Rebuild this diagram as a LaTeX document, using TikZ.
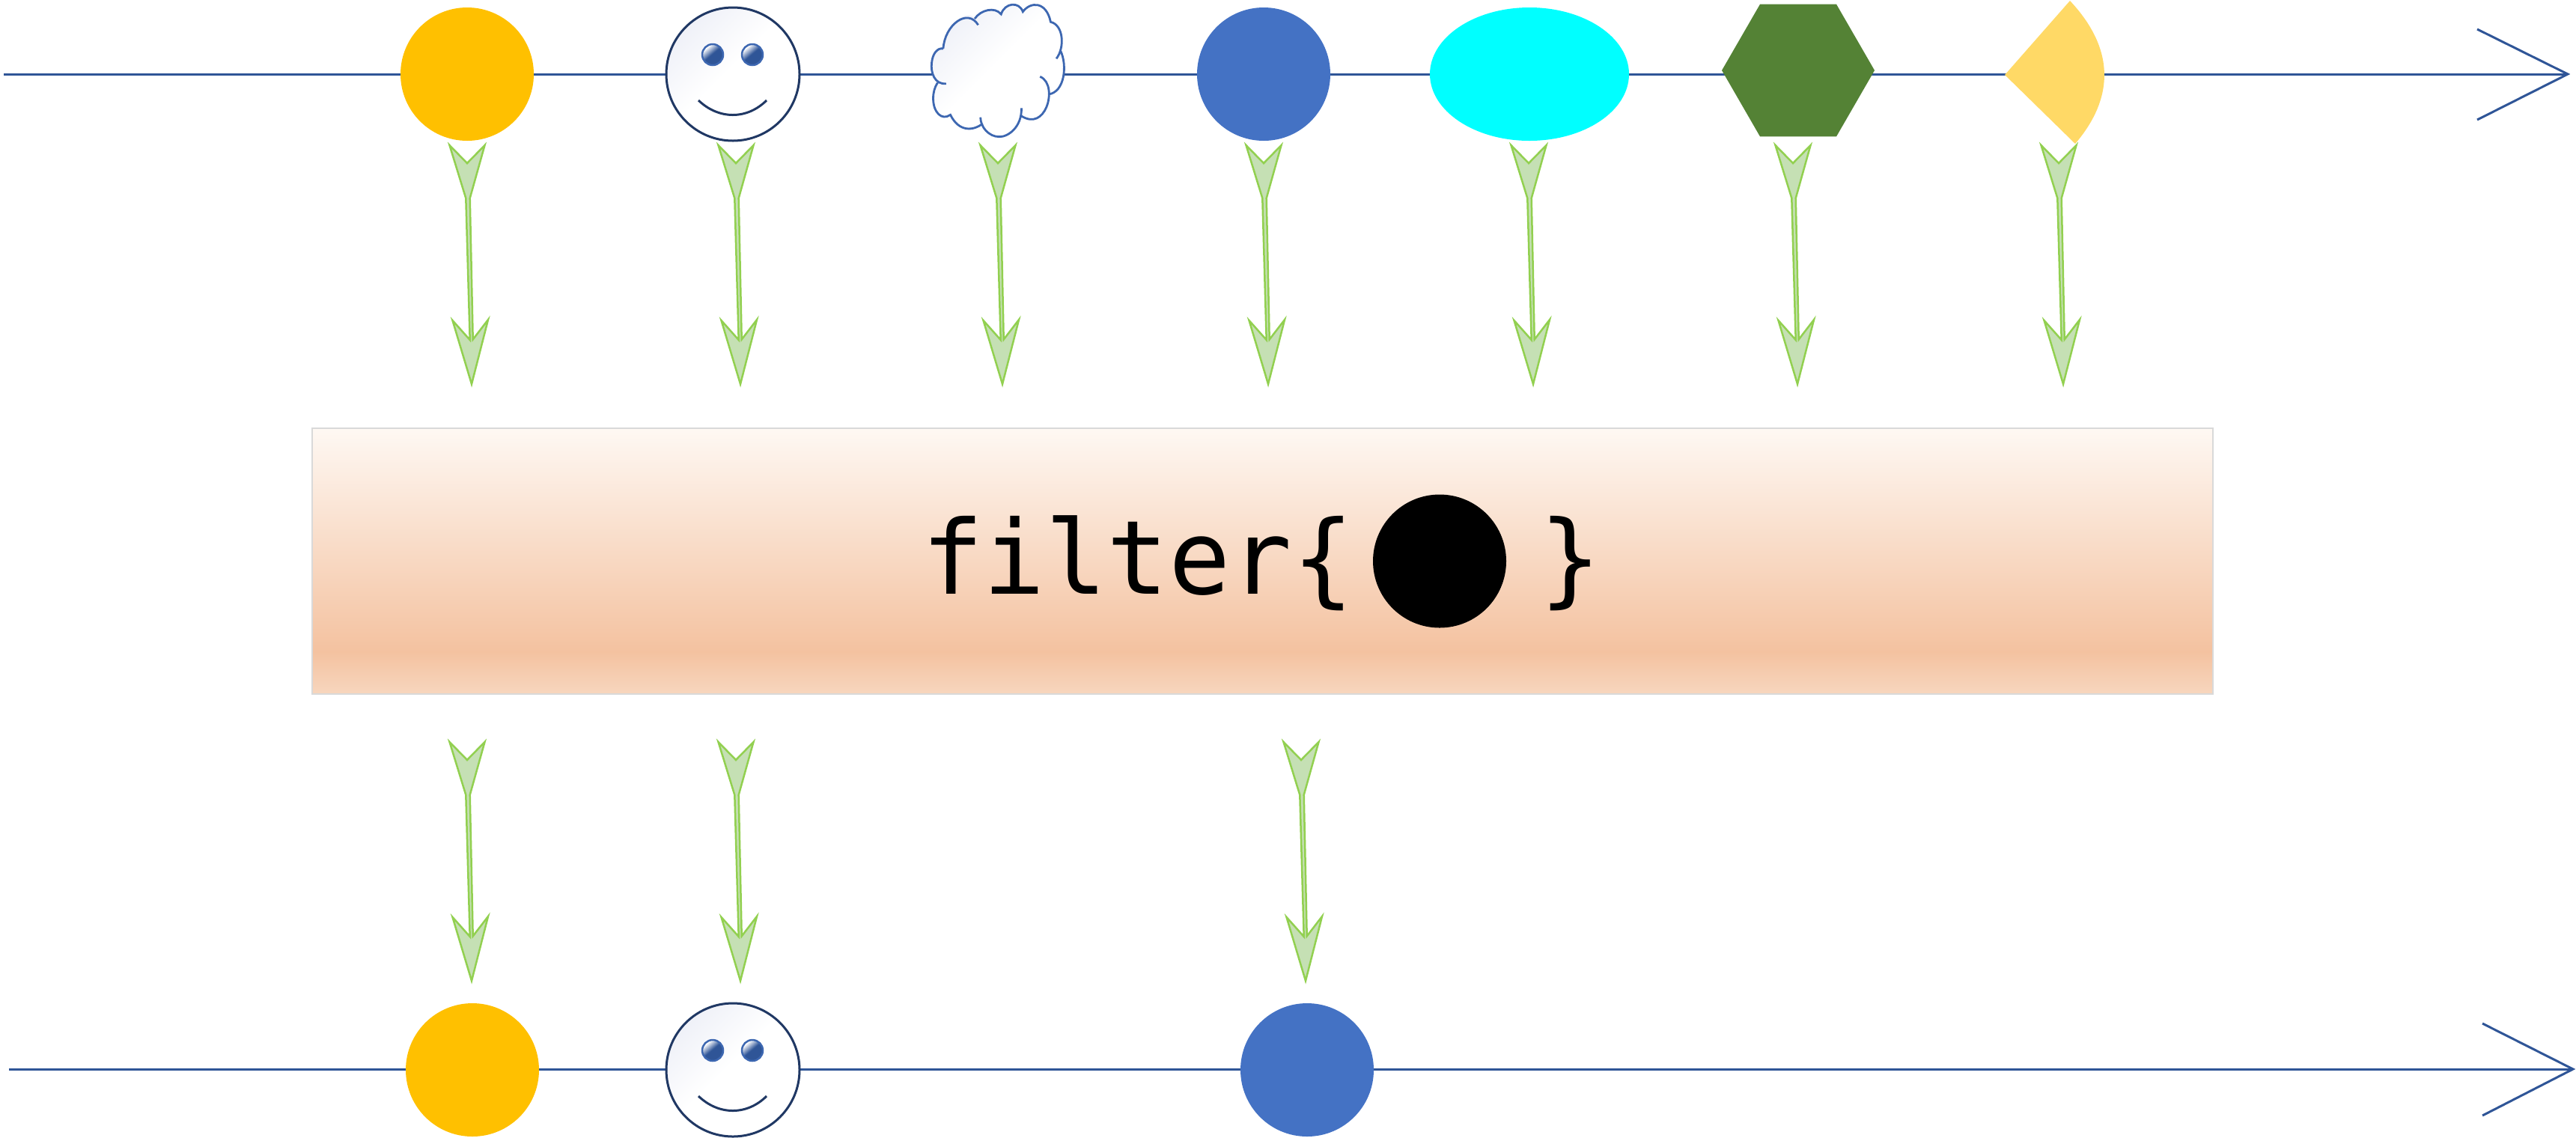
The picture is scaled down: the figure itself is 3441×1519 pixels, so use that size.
\documentclass[tikz,border=0pt]{standalone}
\usepackage{fontspec}
\setmonofont{DejaVu Sans Mono}
\usetikzlibrary{shapes.geometric,calc}
\definecolor{lineblue}{HTML}{2F5597}
\definecolor{facenavy}{HTML}{203864}
\definecolor{cloudblue}{HTML}{3D67B1}
\definecolor{coinyellow}{HTML}{FFC000}
\definecolor{coinblue}{HTML}{4472C4}
\definecolor{coincyan}{HTML}{00FFFF}
\definecolor{hexgreen}{HTML}{548235}
\definecolor{wedgeyellow}{HTML}{FFD966}
\definecolor{flowedge}{HTML}{92D050}
\definecolor{flowfill}{HTML}{C5E0B4}
\definecolor{boxbot}{HTML}{F7D6BE}
\definecolor{boxmid}{HTML}{F4C2A0}
\definecolor{boxtop}{HTML}{FEF8F3}
\definecolor{faceedge}{HTML}{EDEFF7}
\definecolor{eyeblue}{HTML}{2F5597}
\pgfdeclareverticalshading{boxshade}{100bp}{color(0bp)=(boxbot); color(25bp)=(boxbot); color(33bp)=(boxmid); color(75bp)=(boxtop); color(100bp)=(boxtop)}
\pgfdeclareverticalshading{faceshade}{100bp}{color(0bp)=(white); color(52bp)=(white); color(78bp)=(faceedge); color(100bp)=(faceedge)}
\pgfdeclareverticalshading{eyeshade}{100bp}{color(0bp)=(eyeblue); color(52bp)=(eyeblue); color(72bp)=(white); color(100bp)=(white)}
\tikzset{
    timeline/.style={lineblue, line width=0.3mm},
    coin/.style={circle, minimum size=17.8mm, inner sep=0pt, fill=#1},
    face/.style={circle, minimum size=17.8mm, inner sep=0pt, draw=facenavy, line width=0.3mm, shading=faceshade, shading angle=45},
    eye/.style={circle, minimum size=2.8mm, inner sep=0pt, draw=cloudblue, line width=0.25mm, shading=eyeshade, shading angle=40},
    flowline/.style={draw=flowedge, fill=flowfill, line width=0.25mm, line join=miter,
        to path={
            ([shift={(0,0)}]\tikztostart) -- ([shift={(23.5,-24)}]\tikztostart)
            -- ([shift={(3.7,46.7)}]\tikztostart) -- ([shift={(1.7,-59.6)}]\tikztotarget)
            -- ([shift={(22,-86)}]\tikztotarget) -- (\tikztotarget)
            -- ([shift={(-25.5,-85)}]\tikztotarget) -- ([shift={(-2.3,-59)}]\tikztotarget)
            -- ([shift={(-1.7,46.7)}]\tikztostart) -- ([shift={(-23.5,-24)}]\tikztostart) -- cycle}}
}
\begin{document}
\begin{tikzpicture}[x=0.1mm, y=-0.1mm]
    \useasboundingbox (0,0) rectangle (3441,1519);

    % Top timeline
    \coordinate (topstart) at (5,99);
    \coordinate (topend) at (3430,99);
    \coordinate (topbarba) at (3309,39);
    \coordinate (topbarbb) at (3309,160);
    \draw[timeline] (topstart) -- (topend);
    \draw[timeline] (topbarba) -- (topend) -- (topbarbb);

    % Bottom timeline
    \coordinate (botstart) at (12,1428);
    \coordinate (botend) at (3437,1428);
    \coordinate (botbarba) at (3316,1367);
    \coordinate (botbarbb) at (3316,1490);
    \draw[timeline] (botstart) -- (botend);
    \draw[timeline] (botbarba) -- (botend) -- (botbarbb);

    % Input shapes
    \node[coin=coinyellow] (inyellow) at (624,99) {};
    \node[face] (inface) at (979,99) {};
    \node[coin=coinblue] (inblue) at (1688,99) {};
    \node[ellipse, minimum width=26.6mm, minimum height=17.8mm, inner sep=0pt, fill=coincyan] (incyan) at (2043,99) {};
    \node[regular polygon, regular polygon sides=6, minimum size=20.4mm, inner sep=0pt, fill=hexgreen] (inhex) at (2402,94) {};
    \fill[wedgeyellow] (2678,100) -- (2765,1) .. controls (2825,65) and (2825,130) .. (2772,192) -- cycle;

    % Cloud
    \begin{scope}[shift={(860,0)}, xscale=0.3827, yscale=0.3333]
        \shade[shading=faceshade, shading angle=45] (1045,195) .. controls (1050,100) and (1130,30) .. (1155,75)
            .. controls (1175,40) and (1225,25) .. (1247,57)
            .. controls (1260,10) and (1310,5) .. (1323,47)
            .. controls (1350,5) and (1405,5) .. (1420,88)
            .. controls (1465,100) and (1470,170) .. (1455,205)
            .. controls (1478,260) and (1470,370) .. (1412,378)
            .. controls (1405,450) and (1360,495) .. (1318,465)
            .. controls (1300,525) and (1270,550) .. (1240,548)
            .. controls (1215,548) and (1195,525) .. (1183,495)
            .. controls (1150,525) and (1100,530) .. (1070,460)
            .. controls (1040,485) and (1010,450) .. (1010,395)
            .. controls (1010,370) and (1015,350) .. (1025,332)
            .. controls (1005,310) and (1000,280) .. (1005,250)
            .. controls (1008,215) and (1025,190) .. (1045,195) -- cycle;
        \draw[cloudblue, line width=0.28mm]
            (1045,195) .. controls (1050,100) and (1130,30) .. (1167,100)
            (1155,75) .. controls (1175,40) and (1225,25) .. (1247,57)
            .. controls (1260,10) and (1310,5) .. (1323,47)
            .. controls (1350,5) and (1405,5) .. (1420,88)
            .. controls (1465,100) and (1470,190) .. (1440,235)
            (1455,205) .. controls (1478,260) and (1470,370) .. (1412,378)
            (1383,307) .. controls (1420,325) and (1420,390) .. (1405,430)
            .. controls (1390,470) and (1360,495) .. (1318,465)
            (1318,433) .. controls (1320,510) and (1270,550) .. (1240,548)
            .. controls (1205,548) and (1175,510) .. (1175,470)
            (1183,495) .. controls (1150,525) and (1100,530) .. (1070,460)
            .. controls (1040,485) and (1010,450) .. (1010,395)
            .. controls (1010,370) and (1015,350) .. (1025,332)
            (1055,335) .. controls (1015,340) and (1000,290) .. (1005,250)
            .. controls (1008,215) and (1025,190) .. (1045,195);
    \end{scope}

    % Output shapes
    \node[coin=coinyellow] (outyellow) at (631,1429) {};
    \node[face] (outface) at (979,1429) {};
    \node[coin=coinblue] (outblue) at (1746,1429) {};

    % Faces
    \foreach \y in {99, 1429} {
        \node[eye] (eyea\y) at (952,\y-26) {};
        \node[eye] (eyeb\y) at (1005,\y-26) {};
        \coordinate (smilea\y) at (933,\y+35);
        \coordinate (smileb\y) at (1024,\y+35);
        \draw[facenavy, line width=0.3mm] (smilea\y) .. controls (960,\y+61) and (998,\y+61) .. (smileb\y);
    }

    % Operator box
    \node[rectangle, minimum width=253.9mm, minimum height=35.5mm, inner sep=0pt, draw=black!15, line width=0.15mm, shading=boxshade] (filterbox) at (1686.5,749.5) {};
    \node[anchor=base, inner sep=0pt, font=\fontsize{39}{39}\selectfont\ttfamily] (filtertext) at (1685,793) {filter\{\ \ \ \}};
    \node[coin=black] (filtercoin) at (1923,749.5) {};

    % Arrows into the box
    \foreach \name/\x in {a/624, b/983, c/1333, d/1688, e/2042, f/2395, g/2750} {
        \coordinate (up\name) at (\x,218);
        \coordinate (upend\name) at (\x+6,513);
        \draw[flowline] (up\name) to (upend\name);
    }

    % Arrows out of the box
    \foreach \name/\x in {a/624, b/983, d/1738} {
        \coordinate (down\name) at (\x,1015);
        \coordinate (downend\name) at (\x+6,1310);
        \draw[flowline] (down\name) to (downend\name);
    }
\end{tikzpicture}
\end{document}
